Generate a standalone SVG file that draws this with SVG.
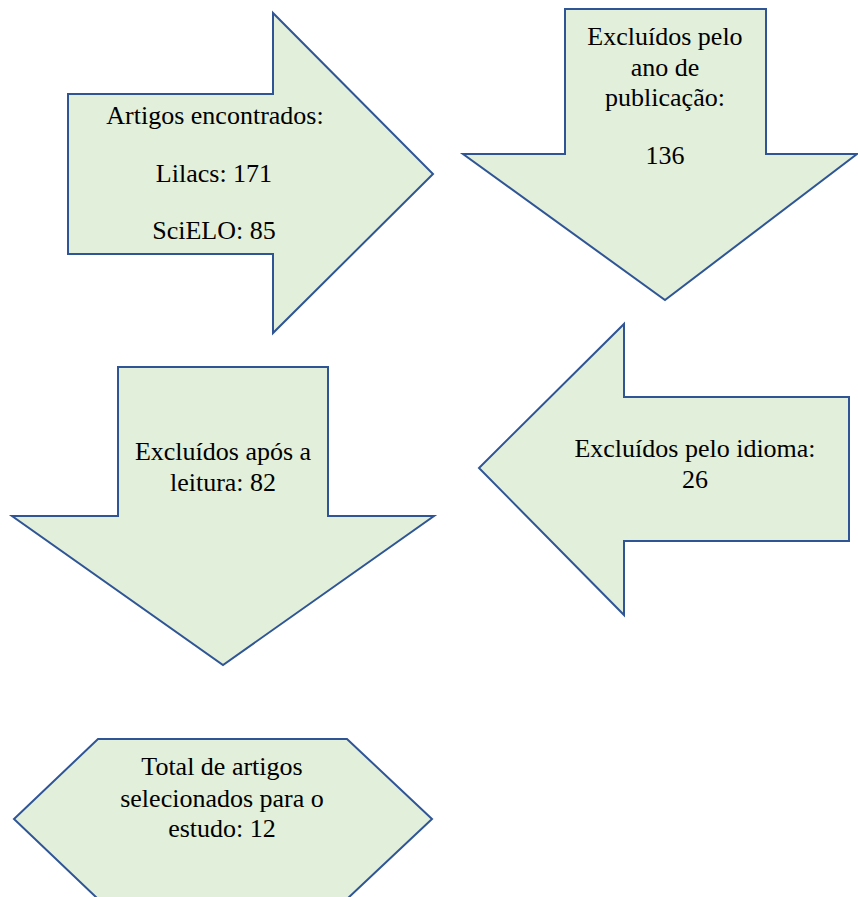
<svg xmlns="http://www.w3.org/2000/svg" width="858" height="897" viewBox="0 0 858 897">
<style>
.s{fill:#E2EFDA;stroke:#2F5597;stroke-width:2;stroke-linejoin:miter}
.t{font-family:"Liberation Serif","Times New Roman",serif;font-size:26px;fill:#000;text-anchor:middle}
</style>
<rect width="858" height="897" fill="#fff"/>
<g id="connectors"></g>
<g id="n1">
<polygon class="s" points="68,94 273,94 273,13 433,174 273,333 273,254 68,254"/>
<text class="t" x="215" y="124">Artigos encontrados:</text>
<text class="t" x="214" y="182">Lilacs: 171</text>
<text class="t" x="214" y="239">SciELO: 85</text>
</g>
<g id="n2">
<polygon class="s" points="565,9 766,9 766,154 857,154 665,300 463,154 565,154"/>
<text class="t" x="665" y="45">Excluídos pelo</text>
<text class="t" x="665" y="76">ano de</text>
<text class="t" x="665" y="106">publicação:</text>
<text class="t" x="665" y="164">136</text>
</g>
<g id="n3">
<polygon class="s" points="118,367 328,367 328,516 434,516 223,665 12,516 118,516"/>
<text class="t" x="223" y="460">Excluídos após a</text>
<text class="t" x="223" y="491">leitura: 82</text>
</g>
<g id="n4">
<polygon class="s" points="624,324 624,397 849,397 849,541 624,541 624,615 479,468"/>
<text class="t" x="695" y="457">Excluídos pelo idioma:</text>
<text class="t" x="695" y="488">26</text>
</g>
<g id="n5">
<polygon class="s" points="98,739 347,739 432,819 347,899 98,899 14,819"/>
<text class="t" x="222" y="775">Total de artigos</text>
<text class="t" x="222" y="807">selecionados para o</text>
<text class="t" x="222" y="837">estudo: 12</text>
</g>
</svg>
